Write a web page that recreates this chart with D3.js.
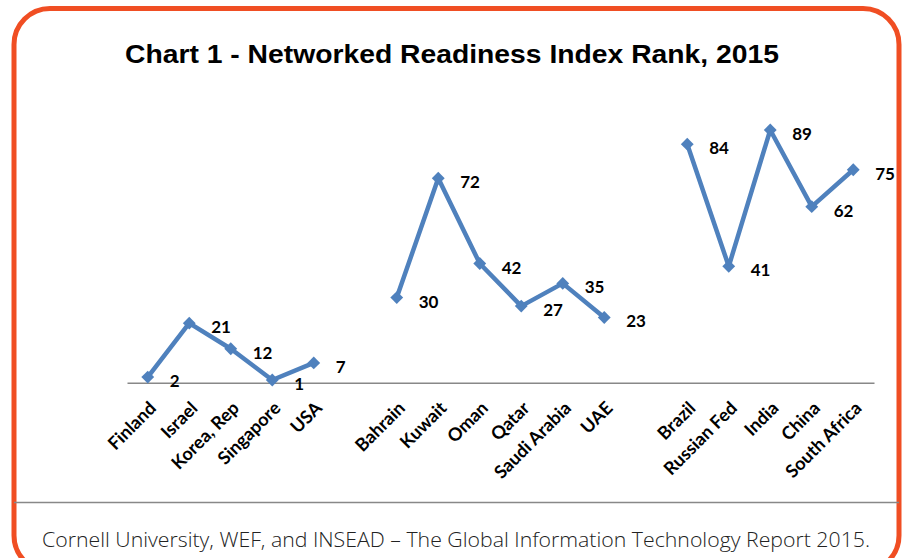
<!DOCTYPE html>
<html>
<head>
<meta charset="utf-8">
<script src="https://cdn.jsdelivr.net/npm/d3@7"></script>
<style>
  body { margin: 0; background: #fff; }
  #chart { width: 904px; height: 558px; overflow: hidden; }
</style>
</head>
<body>
<div id="chart"></div>
<script>
// chart data, empty strings mark the gaps between country groups
var countries = ["Finland", "Israel", "Korea, Rep", "Singapore", "USA", "",
  "Bahrain", "Kuwait", "Oman", "Qatar", "Saudi Arabia", "UAE", "",
  "Brazil", "Russian Fed", "India", "China", "South Africa"];
var ranks = [2, 21, 12, 1, 7, null,
  30, 72, 42, 27, 35, 23, null,
  84, 41, 89, 62, 75];
var title = "Chart 1 - Networked Readiness Index Rank, 2015";
var source = "Cornell University, WEF, and INSEAD \u2013 The Global Information Technology Report 2015.";

render();

function render() {
  var width = 904;
  var height = 558;
  var blue = "#4f81bd";

  var dataset = new Array();
  for (i = 0; i < countries.length; i++) {
    dataset[i] = { "key": "c" + i, "name": countries[i], "value": ranks[i] };
  }

  var svg = d3.select("#chart")
    .append("svg")
    .attr("width", width)
    .attr("height", height);

  // orange frame
  svg.append("rect")
    .attr("x", 14)
    .attr("y", 8.5)
    .attr("width", 885)
    .attr("height", 563)
    .attr("rx", 36)
    .attr("fill", "#fff")
    .attr("stroke", "#f04e23")
    .attr("stroke-width", 5);

  svg.append("text")
    .attr("x", 452)
    .attr("y", 63)
    .attr("text-anchor", "middle")
    .attr("textLength", 654)
    .attr("lengthAdjust", "spacingAndGlyphs")
    .style("font-family", "'Liberation Sans', Arial, sans-serif")
    .style("font-weight", "bold")
    .style("font-size", "26px")
    .attr("fill", "#000")
    .text(title);

  var xScale = d3.scaleBand()
    .domain(dataset.map(function (d) { return d.key; }))
    .range([127, 874]);

  var yScale = d3.scaleLinear()
    .domain([0, 89])
    .range([382.8, 130]);

  // baseline axis
  var xAxis = svg.append("g")
    .attr("transform", "translate(0," + yScale(0) + ")")
    .call(d3.axisBottom(xScale).tickSize(0).tickFormat(function (k, i) { return countries[i]; }));

  xAxis.select(".domain")
    .attr("stroke", "#888")
    .attr("stroke-width", 1.5);

  xAxis.selectAll(".tick text")
    .attr("transform", "translate(5,22) rotate(-45)")
    .attr("x", 0)
    .attr("y", 0)
    .attr("dy", "0.35em")
    .attr("text-anchor", "end")
    .style("font-family", "Lato, 'Open Sans', sans-serif")
    .style("font-weight", "bold")
    .style("font-size", "18px")
    .attr("fill", "#000");

  var cx = function (d) { return xScale(d.key) + xScale.bandwidth() / 2; };

  var line = d3.line()
    .defined(function (d) { return d.value != null; })
    .x(cx)
    .y(function (d) { return yScale(d.value); });

  svg.append("path")
    .datum(dataset)
    .attr("fill", "none")
    .attr("stroke", blue)
    .attr("stroke-linejoin", "round")
    .attr("stroke-width", 4.5)
    .attr("d", line);

  var points = dataset.filter(function (d) { return d.value != null; });

  svg.selectAll(".marker")
    .data(points)
    .enter()
    .append("path")
    .attr("class", "marker")
    .attr("d", d3.symbol().type(d3.symbolDiamond2).size(105))
    .attr("transform", function (d) { return "translate(" + cx(d) + "," + yScale(d.value) + ")"; })
    .attr("fill", blue);

  svg.selectAll(".vlabel")
    .data(points)
    .enter()
    .append("text")
    .attr("class", "vlabel")
    .attr("x", function (d) { return cx(d) + 22; })
    .attr("y", function (d) { return yScale(d.value) + 10; })
    .style("font-family", "Lato, 'Open Sans', sans-serif")
    .style("font-weight", "bold")
    .style("font-size", "17px")
    .attr("fill", "#000")
    .text(function (d) { return d.value; });

  // source line
  svg.append("line")
    .attr("x1", 14)
    .attr("x2", 899)
    .attr("y1", 502.5)
    .attr("y2", 502.5)
    .attr("stroke", "#888")
    .attr("stroke-width", 1.5);

  svg.append("text")
    .attr("x", 456)
    .attr("y", 547)
    .attr("text-anchor", "middle")
    .attr("textLength", 828)
    .attr("lengthAdjust", "spacingAndGlyphs")
    .style("font-family", "'Open Sans', sans-serif")
    .style("font-weight", 300)
    .style("font-size", "21px")
    .attr("fill", "#222")
    .text(source);
}
</script>
</body>
</html>
